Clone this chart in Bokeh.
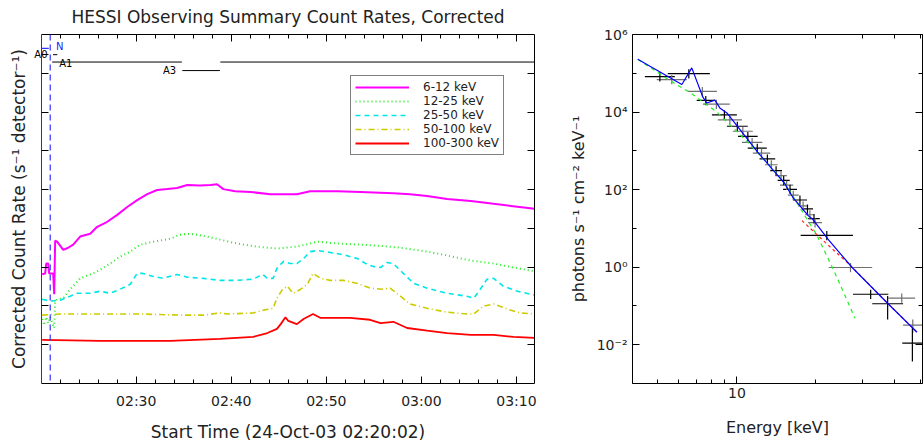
from bokeh.plotting import figure
from bokeh.layouts import row
from bokeh.models import (FixedTicker, LinearAxis, LogAxis, Span, Legend, LegendItem,
                          CustomJSTickFormatter, ColumnDataSource)
from bokeh.core.properties import value
from bokeh.embed import file_html
from bokeh.resources import INLINE

FONT = "DejaVu Sans"
INK = "#222222"

# ---------------- HESSI observing summary: minutes after 02:20:00 UT ----------------
t_6_12 = [0.1, 0.42, 0.53, 0.74, 0.84, 1.26, 1.37, 1.47, 1.68, 2.32, 2.84, 3.37, 4.1, 5.16,
          5.89, 6.95, 8.0, 9.05, 10.1, 11.16, 12.2, 13.26, 14.3, 15.37, 16.7, 17.8, 18.5,
          19.16, 20.4, 22.0, 24.1, 26.9, 28.3, 31.2, 33.6, 37.05, 38.8, 40.6, 42.7, 45.2,
          47.6, 49.4, 51.9]
r_6_12 = [660, 690, 1240, 1240, 690, 690, 200, 4800, 4550, 2800, 3170, 3800, 6150, 7250,
          11000, 14800, 22300, 35600, 53700, 76600, 97700, 103000, 110000, 131000, 127000,
          131000, 138000, 103000, 91000, 87000, 76000, 76000, 91000, 91000, 87000, 81000,
          76000, 68000, 57500, 51000, 43000, 38000, 32000]

t_12_25 = [0.1, 0.32, 0.53, 0.74, 0.95, 1.16, 1.37, 1.47, 1.68, 2.32, 3.05, 4.1, 5.16, 5.89,
           7.26, 8.3, 9.37, 10.4, 11.8, 13.6, 14.6, 15.7, 17.05, 18.8, 20.6, 22.7, 24.8,
           26.9, 28.3, 29.05, 31.2, 33.6, 35.7, 37.8, 40.6, 42.7, 45.2, 47.6, 49.7, 51.9]
r_12_25 = [46, 32, 52, 36, 52, 36, 27, 133, 149, 158, 270, 515, 650, 776, 1240, 1870, 2520,
           3800, 4550, 5400, 6900, 7250, 6450, 5130, 4070, 3390, 3020, 3390, 4070, 4550,
           4070, 3800, 3550, 3170, 2520, 2000, 1480, 1240, 980, 780]

t_25_50 = [0.1, 0.95, 2.0, 3.05, 3.8, 5.16, 6.2, 7.26, 8.3, 9.37, 10.1, 10.7, 11.8, 12.8,
           14.3, 15.4, 17.05, 18.8, 20.6, 22.3, 23.3, 23.8, 24.4, 24.8, 25.5, 26.2, 26.9,
           27.6, 28.3, 29.05, 30.4, 31.8, 33.3, 34.3, 34.9, 35.7, 36.4, 37.05, 38.1, 39.2,
           40.6, 42.7, 44.8, 45.5, 46.2, 46.9, 47.6, 48.6, 50.1, 51.9]
r_25_50 = [149, 133, 141, 178, 212, 212, 240, 212, 270, 363, 690, 690, 575, 515, 650, 550,
           515, 457, 457, 490, 650, 515, 515, 933, 1410, 1240, 1240, 1660, 2520, 2690, 2400,
           2090, 1660, 1175, 1050, 980, 1320, 1240, 690, 380, 288, 212, 178, 158, 270, 490,
           515, 324, 240, 190]

t_50_100 = [0.1, 2.0, 6.2, 10.4, 14.6, 17.05, 18.8, 19.6, 22.3, 23.4, 24.4, 24.8, 25.4,
            25.9, 26.5, 27.3, 28.0, 28.6, 29.4, 30.4, 31.8, 33.3, 34.6, 36.0, 36.7, 37.8,
            38.8, 40.6, 42.7, 44.8, 45.5, 46.5, 47.6, 49.05, 50.4, 51.9]
r_50_100 = [58, 62, 62, 62, 58, 58, 66, 62, 66, 78, 87, 158, 270, 324, 212, 270, 363, 690,
            515, 457, 457, 380, 288, 270, 288, 178, 112, 87, 69, 62, 62, 98, 112, 83, 66, 62]

t_100_300 = [0.1, 6.2, 13.6, 18.8, 22.3, 23.8, 24.8, 25.2, 25.7, 26.0, 26.9, 27.6, 28.6,
             29.4, 31.2, 32.5, 34.6, 35.7, 37.05, 38.5, 40.6, 42.7, 45.2, 47.6, 49.7, 51.9]
r_100_300 = [13.3, 12.6, 12.6, 14.1, 15.9, 20, 25.6, 34, 51, 41, 34, 46, 62, 49, 49, 49, 44,
             36, 39, 27, 23, 20, 17.9, 17.9, 15.9, 15]

band_labels = ["6-12 keV", "12-25 keV", "25-50 keV", "50-100 keV", "100-300 keV"]

# attenuator / flag intervals (minutes after 02:20:00)
flag_names = ["A1", "A3", "A1"]
flag_start = [1.15, 14.85, 18.85]
flag_end = [14.8, 18.8, 51.9]
a0_start, a0_end = 1.25, 1.7
night_start, night_end = 0.0, 0.8
marker_time = 0.95

time_ticks = [10, 20, 30, 40, 50]
time_tick_labels = ["02:30", "02:40", "02:50", "03:00", "03:10"]
time_minor = list(range(2, 52, 2))

# ---------------- photon spectrum ----------------
e_lo = [4.46, 4.95, 5.45, 6.5, 7.03, 7.42, 8.03, 8.46, 9.16, 9.65, 10.1, 10.45, 11.0, 11.5,
        12.2, 12.8, 13.4, 14.0, 14.3, 14.6, 15.0, 15.65, 16.35, 17.1, 17.7, 18.2, 18.7,
        18.7, 17.5, 22.4, 27.7, 37.8, 32.8, 43.0, 42.7]
e_hi = [5.80, 6.44, 7.89, 8.39, 8.24, 9.40, 10.0, 10.45, 11.0, 11.5, 12.0, 12.5, 13.0, 13.4,
        14.0, 14.3, 14.85, 15.5, 15.9, 16.4, 16.95, 17.2, 18.5, 18.7, 19.5, 19.8, 20.7,
        21.1, 27.7, 32.8, 37.8, 47.8, 43.0, 51.0, 51.0]
flux = [8.2e4, 6.9e4, 9.8e4, 3.4e4, 2.0e4, 1.6e4, 8.5e3, 6.3e3, 4.3e3, 3.2e3, 2.36e3,
        1.66e3, 1.17e3, 875, 620, 437, 310, 230, 173, 130, 102, 72, 54, 38, 32, 22.5, 17.8,
        14.1, 6.6, 0.98, 0.2, 0.16, 0.114, 0.032, 0.011]
flux_lo = [f * 0.75 for f in flux[:-3]] + [0.045, 0.02, 0.0037]
flux_hi = [f * 1.3 for f in flux[:-3]] + [0.18, 0.045, 0.028]
point_color = ["black", "#707070"] * 17 + ["black"]

e_total = [4.19, 6.17, 6.73, 7.42, 7.68, 8.24, 8.61, 9.16, 12.0, 15.2, 16.4, 18.7, 19.5,
           22.4, 27.5, 37.7, 48.6]
f_total = [2.3e5, 5.15e4, 1.38e5, 2.42e4, 1.71e4, 2.03e4, 1.28e4, 9.5e3, 930, 145, 61, 21.3,
           16.9, 5.0, 0.98, 0.114, 0.021]
e_thermal = [4.19, 5.55, 6.62, 8.39, 10.9, 14.2, 15.5, 17.4, 20.2, 23.1, 25.4, 28.2]
f_thermal = [2.3e5, 6.5e4, 3.2e4, 1.0e4, 1.78e3, 260, 122, 34, 6.6, 1.0, 0.24, 0.048]
e_nonthermal = [17.7, 22.1, 26.9, 37.7, 48.6]
f_nonthermal = [15.9, 3.9, 1.16, 0.114, 0.021]

BLANK = CustomJSTickFormatter(code="return '';")


def style_axis(ax, labels=True):
    ax.major_tick_in = 7
    ax.major_tick_out = 0
    ax.minor_tick_in = 4
    ax.minor_tick_out = 0
    ax.axis_line_color = "black"
    ax.major_tick_line_color = "black"
    ax.minor_tick_line_color = "black"
    ax.major_label_text_font = FONT
    ax.major_label_text_color = INK
    ax.axis_label_text_font = FONT
    ax.axis_label_text_font_style = "normal"
    ax.axis_label_text_color = INK
    if not labels:
        ax.formatter = BLANK
        ax.major_label_text_font_size = "1px"
        ax.major_label_standoff = 0
        ax.axis_label_standoff = 0


# ---------------- left: count rates ----------------
p1 = figure(width=560, height=445, x_range=(0.033, 51.9), y_range=(1, 1e9),
            y_axis_type="log", output_backend="svg", toolbar_location=None,
            min_border_left=41, min_border_right=26, min_border_top=31,
            min_border_bottom=62)
p1.grid.visible = False
p1.outline_line_color = None
p1.title.text = "HESSI Observing Summary Count Rates, Corrected"
p1.title.align = "center"
p1.title.vertical_align = "top"
p1.title.text_font = FONT
p1.title.text_font_size = "17px"
p1.title.text_font_style = "normal"
p1.title.text_color = INK
p1.title.standoff = 12

time_ticker = FixedTicker(ticks=time_ticks, minor_ticks=time_minor)

# flag rows above the light curves
A0_EXP = 8.48
ROW_N, ROW_A0, ROW_A1, ROW_A3 = 10 ** 8.64, 10 ** A0_EXP, 10 ** 8.29, 10 ** 8.07

xa = p1.xaxis[0]
xa.ticker = time_ticker
style_axis(xa)
xa.major_label_overrides = dict(zip(time_ticks, time_tick_labels))
xa.major_label_text_font_size = "14px"
xa.major_label_standoff = 9
xa.axis_label = "Start Time (24-Oct-03 02:20:02)"
xa.axis_label_text_font_size = "17px"
xa.axis_label_standoff = 10

# left rate axis: decade ticks, and the A0 flag name written across the frame edge
ya = p1.yaxis[0]
ya.ticker = FixedTicker(ticks=[10 ** k for k in range(1, 9)] + [ROW_A0], minor_ticks=[])
style_axis(ya)
ya.formatter = CustomJSTickFormatter(
    args=dict(a0=A0_EXP),
    code="return Math.abs(Math.log10(tick) - a0) < 0.01 ? 'A0' : '';")
ya.major_label_text_font_size = "10px"
ya.major_label_text_color = "black"
ya.major_label_standoff = -6
ya.axis_line_color = "#2b2bd0"
ya.axis_label = "Corrected Count Rate (s\u207b\u00b9 detector\u207b\u00b9)"
ya.axis_label_text_font_size = "17px"
ya.axis_label_standoff = 2

top1 = LinearAxis(ticker=time_ticker)
style_axis(top1, labels=False)
p1.add_layout(top1, "above")
right1 = LogAxis(ticker=FixedTicker(ticks=[10 ** k for k in range(1, 9)], minor_ticks=[]))
style_axis(right1, labels=False)
p1.add_layout(right1, "right")

series = [
    (t_6_12, r_6_12, "#ff00ff", None, 2),
    (t_12_25, r_12_25, "#22ee22", "1 3", 2),
    (t_25_50, r_25_50, "#00e5e5", "5 4", 1.6),
    (t_50_100, r_50_100, "#cccc00", "6 3 1 3", 1.6),
    (t_100_300, r_100_300, "#ff0000", None, 1.8),
]
items = []
for (tt, rr, col, dash, w), lab in zip(series, band_labels):
    kw = dict(line_color=col, line_width=w)
    if dash:
        kw["line_dash"] = dash
    r = p1.line(tt, rr, **kw)
    items.append(LegendItem(label=lab, renderers=[r]))

legend = Legend(items=items, location=(309, 228), padding=4, spacing=0,
                glyph_width=54, glyph_height=12, label_height=12, label_standoff=14,
                label_text_font=FONT, label_text_font_size="12px",
                label_text_color=INK, border_line_color="black", border_line_width=1,
                background_fill_alpha=1, margin=0)
p1.add_layout(legend, "center")

p1.add_layout(Span(location=marker_time, dimension="height", line_color="#3333ff",
                   line_dash="6 4", line_width=1.2))

flag_rows = [ROW_A1 if n == "A1" else ROW_A3 for n in flag_names]
p1.segment(flag_start, flag_rows, flag_end, flag_rows, line_color="black", line_width=1)
p1.segment([a0_start], [ROW_A0], [a0_end], [ROW_A0], line_color="black", line_width=1)
p1.segment([night_start], [ROW_N], [night_end], [ROW_N], line_color="#3333ff",
           line_width=1.2)

flag_txt = dict(text_font=value(FONT), text_font_size="10px", text_baseline="middle")
p1.text(x=[1.55], y=[ROW_N * 1.1], text=["N"], text_align="left", text_color="#2222ff",
        **flag_txt)
p1.text(x=[1.9], y=[ROW_A1 * 0.93], text=["A1"], text_align="left", text_color="black",
        **flag_txt)
p1.text(x=[14.2], y=[ROW_A3], text=["A3"], text_align="right", text_color="black",
        **flag_txt)

# ---------------- right: photon spectrum ----------------
p2 = figure(width=364, height=445, x_axis_type="log", y_axis_type="log",
            x_range=(4, 51), y_range=(1e-3, 1e6), output_backend="svg",
            toolbar_location=None, title=None, min_border_left=72, min_border_right=2,
            min_border_top=28, min_border_bottom=61)
p2.grid.visible = False
p2.outline_line_color = None

e_ticker = FixedTicker(ticks=[10], minor_ticks=[5, 6, 7, 8, 9, 20, 30, 40, 50])
f_ticker = FixedTicker(ticks=[1e-2, 1, 1e2, 1e4, 1e6], minor_ticks=[1e-3, 1e-1, 10, 1e3, 1e5])
sup_fmt = CustomJSTickFormatter(code="""
const e = Math.round(Math.log10(tick));
const m = {'-': '\\u207b', '0': '\\u2070', '1': '\\u00b9', '2': '\\u00b2', '3': '\\u00b3',
           '4': '\\u2074', '5': '\\u2075', '6': '\\u2076', '7': '\\u2077', '8': '\\u2078', '9': '\\u2079'};
return '10' + String(e).split('').map(c => m[c]).join('');
""")

xb = p2.xaxis[0]
xb.ticker = e_ticker
style_axis(xb)
xb.formatter = CustomJSTickFormatter(code="return tick.toFixed(0);")
xb.major_label_text_font_size = "14px"
xb.major_label_standoff = 4
xb.axis_label = "Energy [keV]"
xb.axis_label_text_font_size = "16px"
xb.axis_label_standoff = 17

yb = p2.yaxis[0]
yb.ticker = f_ticker
style_axis(yb)
yb.formatter = sup_fmt
yb.major_label_text_font_size = "14px"
yb.major_label_standoff = 5
yb.axis_label = "photons s\u207b\u00b9 cm\u207b\u00b2 keV\u207b\u00b9"
yb.axis_label_text_font_size = "16px"
yb.axis_label_standoff = 6

top2 = LogAxis(ticker=e_ticker)
style_axis(top2, labels=False)
p2.add_layout(top2, "above")
right2 = LogAxis(ticker=f_ticker)
style_axis(right2, labels=False)
p2.add_layout(right2, "right")

e_mid = [(a * b) ** 0.5 for a, b in zip(e_lo, e_hi)]
spec = ColumnDataSource(dict(e_lo=e_lo, e_hi=e_hi, e_mid=e_mid, flux=flux,
                             flux_lo=flux_lo, flux_hi=flux_hi, color=point_color))
p2.segment("e_lo", "flux", "e_hi", "flux", source=spec, line_color="color", line_width=1.2)
p2.segment("e_mid", "flux_lo", "e_mid", "flux_hi", source=spec, line_color="color",
           line_width=1.2)

p2.line(e_thermal, f_thermal, line_color="#22ee22", line_dash="4 4", line_width=1.2)
p2.line(e_nonthermal, f_nonthermal, line_color="#ff2222", line_dash="3 3", line_width=1.2)
p2.line(e_total, f_total, line_color="#0000ff", line_width=1.2)

layout = row(p1, p2)
open("out.html", "w").write(file_html(layout, INLINE))
